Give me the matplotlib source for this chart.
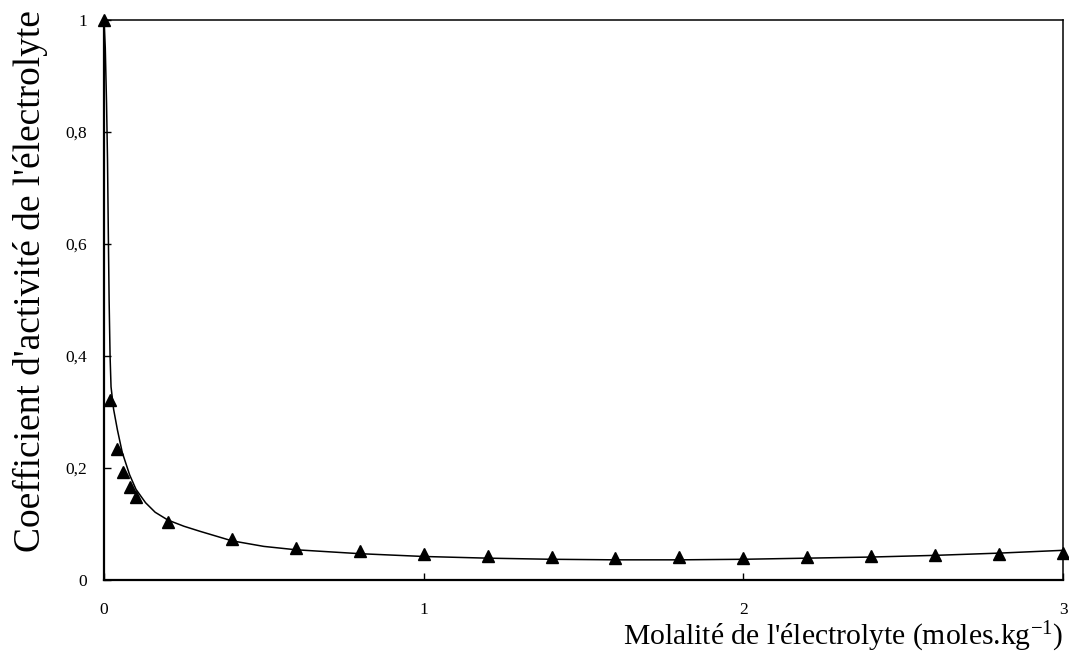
import matplotlib
matplotlib.use("Agg")
import matplotlib.pyplot as plt

# Experimental points (triangles)
m_exp = [0.0, 0.02, 0.04, 0.06, 0.08, 0.1, 0.2, 0.4, 0.6, 0.8, 1.0, 1.2, 1.4, 1.6,
         1.8, 2.0, 2.2, 2.4, 2.6, 2.8, 3.0]
g_exp = [1.0, 0.321, 0.234, 0.192, 0.166, 0.148, 0.104, 0.073, 0.058, 0.052, 0.046,
         0.043, 0.041, 0.040, 0.041, 0.040, 0.041, 0.042, 0.044, 0.046, 0.048]

# Model curve
m_mod = [0.0, 0.004, 0.008, 0.011, 0.0135, 0.016, 0.019, 0.022, 0.03, 0.042,
         0.057, 0.08, 0.1, 0.13, 0.16, 0.2, 0.25, 0.3, 0.4, 0.5, 0.6, 0.8, 1.0,
         1.2, 1.4, 1.6, 1.8, 2.0, 2.2, 2.4, 2.6, 2.8, 3.0]
g_mod = [1.0, 0.95, 0.85, 0.75, 0.62, 0.50, 0.40, 0.345, 0.305, 0.268,
         0.228, 0.188, 0.162, 0.138, 0.121, 0.107, 0.096, 0.087, 0.070, 0.060,
         0.054, 0.047, 0.042, 0.039, 0.037, 0.036, 0.036, 0.037, 0.039, 0.041,
         0.044, 0.048, 0.053]

x_ticks = [0, 1, 2, 3]
x_ticklabels = ["0", "1", "2", "3"]
y_ticks = [0, 0.2, 0.4, 0.6, 0.8, 1.0]
y_ticklabels = ["0", "0,2", "0,4", "0,6", "0,8", "1"]

plt.rcParams['font.family'] = ['Liberation Serif', 'DejaVu Serif']
plt.rcParams['mathtext.fontset'] = 'custom'
plt.rcParams['mathtext.rm'] = 'Liberation Serif'
plt.rcParams['mathtext.it'] = 'Liberation Serif:italic'

fig = plt.figure(figsize=(10.69, 6.58), dpi=100)
ax = fig.add_axes([104/1069, 78/658, (1063-104)/1069, (580-20)/658])

ax.plot(m_mod, g_mod, color='black', linewidth=1.1, zorder=2)
ax.plot(m_exp, g_exp, linestyle='none', marker='^', markersize=8,
        color='black', clip_on=False, zorder=3)

ax.set_xlim(0, 3)
ax.set_ylim(0, 1)
ax.set_xticks(x_ticks)
ax.set_xticklabels(x_ticklabels)
ax.set_yticks(y_ticks)
ax.set_yticklabels(y_ticklabels)
ax.tick_params(axis='both', direction='in', length=5, width=1, labelsize=12.5)
ax.tick_params(axis='x', pad=16)
ax.tick_params(axis='y', pad=12)

for s in ['left', 'bottom']:
    ax.spines[s].set_linewidth(1.6)
for s in ['top', 'right']:
    ax.spines[s].set_linewidth(1.1)

fig.text(1063/1069, 1 - 637/658, "Molalité de l'électrolyte (moles.kg$^{-1}$)",
         ha='right', va='center', fontsize=21.3)
fig.text(30/1069, 1 - 281/658, "Coefficient d'activité de l'électrolyte",
         ha='center', va='center', rotation=90, fontsize=27)

fig.savefig("out.png", dpi=100)
